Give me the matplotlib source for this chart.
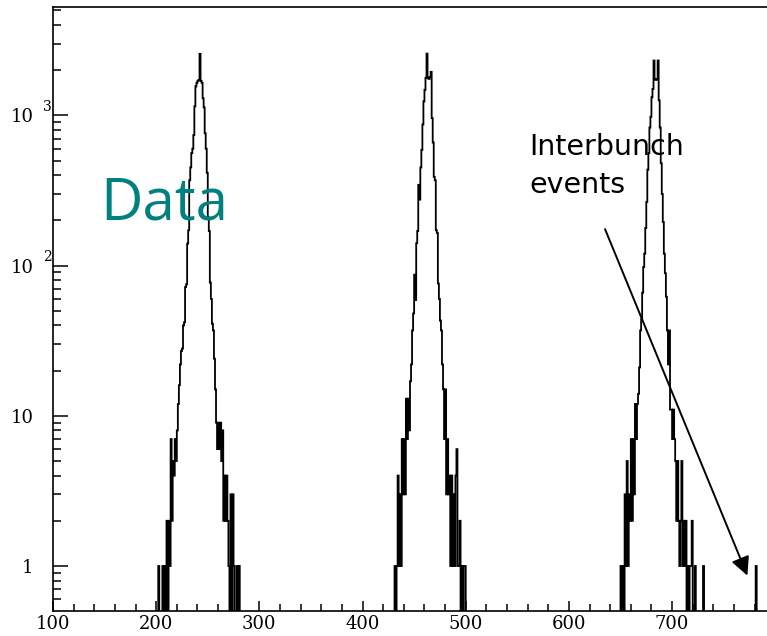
from __future__ import annotations

import numpy as np

import matplotlib

matplotlib.use("Agg")
import matplotlib.pyplot as plt  # noqa: E402
from matplotlib.ticker import FixedLocator, NullFormatter  # noqa: E402


# time axis: 1 unit bins from 100 to 792
X_MIN = 100
X_MAX = 792

# counts per bin, each list starts at the given bin
PEAK1_START = 202
PEAK1_COUNTS = [
    1, 0, 0, 0, 1, 0, 1, 0, 2, 0, 2, 1, 7, 2, 5, 4, 7, 5, 8, 12,
    16, 22, 27, 28, 40, 42, 72, 75, 140, 172, 370, 450, 560, 600, 740, 1150,
    1560, 1650, 1700, 1720, 2570, 1700, 1650, 1300, 1130, 760, 600, 415, 210, 170,
    77, 60, 41, 37, 24, 15, 9, 6, 9, 6, 9, 5, 8, 2, 4, 2, 4, 2, 1, 0,
    3, 0, 3, 1, 0, 0, 1, 0, 1,
]

PEAK2_START = 431
PEAK2_COUNTS = [
    1, 0, 1, 4, 1, 3, 1, 7, 3, 7, 3, 13, 7, 13, 8, 17, 22, 37, 48, 87,
    59, 141, 170, 345, 275, 450, 590, 870, 1240, 1480, 1780, 2580, 1780, 1750, 1800, 1950,
    960, 660, 390, 370, 172, 165, 76, 60, 43, 37, 22, 15, 7, 15, 3, 7, 3, 4,
    1, 4, 1, 3, 1, 4, 6, 1, 1, 2, 0, 1, 0, 1, 1,
]

PEAK3_START = 650
PEAK3_COUNTS = [
    1, 0, 1, 0, 3, 1, 5, 1, 3, 2, 7, 2, 7, 3, 12, 7, 12, 14, 21, 37,
    44, 66, 98, 120, 178, 265, 435, 560, 830, 980, 1320, 1500, 2320, 1730, 1750, 1730,
    2320, 1260, 830, 480, 300, 195, 120, 89, 62, 37, 22, 37, 11, 11, 7, 11, 7, 5,
    2, 5, 2, 1, 2, 5, 1, 2, 1, 2, 0, 1, 0, 1, 1, 2, 0, 0, 1, 0,
    0, 0, 0, 0, 0, 0, 1,
]

INTERBUNCH_START = 781
INTERBUNCH_COUNTS = [1]

X_TICKS = [100, 200, 300, 400, 500, 600, 700]
Y_TICKS = [1, 10, 100, 1000]
Y_TICK_LABELS = ["1", "10", "10", "10"]
Y_EXPONENTS = {100: "2", 1000: "3"}

TEAL = "#00807f"


def build_counts() -> tuple[np.ndarray, np.ndarray]:
    edges = np.arange(X_MIN, X_MAX + 1, 1.0)
    counts = np.zeros(len(edges) - 1)
    for start, values in (
        (PEAK1_START, PEAK1_COUNTS),
        (PEAK2_START, PEAK2_COUNTS),
        (PEAK3_START, PEAK3_COUNTS),
        (INTERBUNCH_START, INTERBUNCH_COUNTS),
    ):
        index = start - X_MIN
        counts[index:index + len(values)] = values
    return edges, counts


def main() -> None:
    edges, counts = build_counts()

    fig = plt.figure(figsize=(7.67, 6.36), dpi=100)
    ax = fig.add_axes((53 / 767, 25.3 / 636, 714 / 767, 603.7 / 636))
    ax.stairs(counts, edges, color="black", linewidth=1.3)

    ax.set_yscale("log", nonpositive="clip")
    ax.set_xlim(X_MIN, X_MAX)
    ax.set_ylim(0.504, 5270)

    serif = {"family": "DejaVu Serif", "size": 13}
    ax.set_xticks(X_TICKS)
    ax.set_xticklabels([str(v) for v in X_TICKS], fontdict=serif)
    ax.xaxis.set_minor_locator(FixedLocator(np.arange(X_MIN, X_MAX, 20)))
    ax.set_yticks(Y_TICKS)
    ax.set_yticklabels(Y_TICK_LABELS, fontdict=serif)
    minor_y = [m * 10.0 ** e for e in range(-1, 4) for m in range(2, 10)]
    ax.yaxis.set_minor_locator(FixedLocator(minor_y))
    ax.yaxis.set_minor_formatter(NullFormatter())

    ax.tick_params(axis="x", which="major", direction="in", length=7, width=1.1, pad=3)
    ax.tick_params(axis="x", which="minor", direction="in", length=5, width=1.1)
    ax.tick_params(axis="y", which="major", direction="in", length=11, width=1.1, pad=14)
    ax.tick_params(axis="y", which="minor", direction="in", length=5.5, width=1.1)
    ax.spines["right"].set_visible(False)
    for side in ("left", "bottom", "top"):
        ax.spines[side].set_linewidth(1.2)

    for value, exponent in Y_EXPONENTS.items():
        ax.annotate(
            exponent,
            xy=(0, value),
            xycoords=("axes fraction", "data"),
            xytext=(-7, 6),
            textcoords="offset points",
            ha="left",
            va="center",
            family="DejaVu Serif",
            fontsize=10,
        )

    fig.text(100 / 767, 1 - 219.3 / 636, "Data", color=TEAL, family="Open Sans",
             fontsize=42, ha="left", va="baseline")
    fig.text(529 / 767, 1 - 155 / 636, "Interbunch", family="DejaVu Sans",
             fontsize=20.5, ha="left", va="baseline")
    fig.text(529 / 767, 1 - 193 / 636, "events", family="DejaVu Sans",
             fontsize=20.5, ha="left", va="baseline")

    ax.annotate(
        "",
        xy=(774, 0.83),
        xytext=(634, 182),
        arrowprops=dict(arrowstyle="-|>", color="black", lw=1.4, mutation_scale=28),
    )

    fig.savefig("out.png", dpi=100)
    plt.close(fig)


if __name__ == "__main__":
    main()
